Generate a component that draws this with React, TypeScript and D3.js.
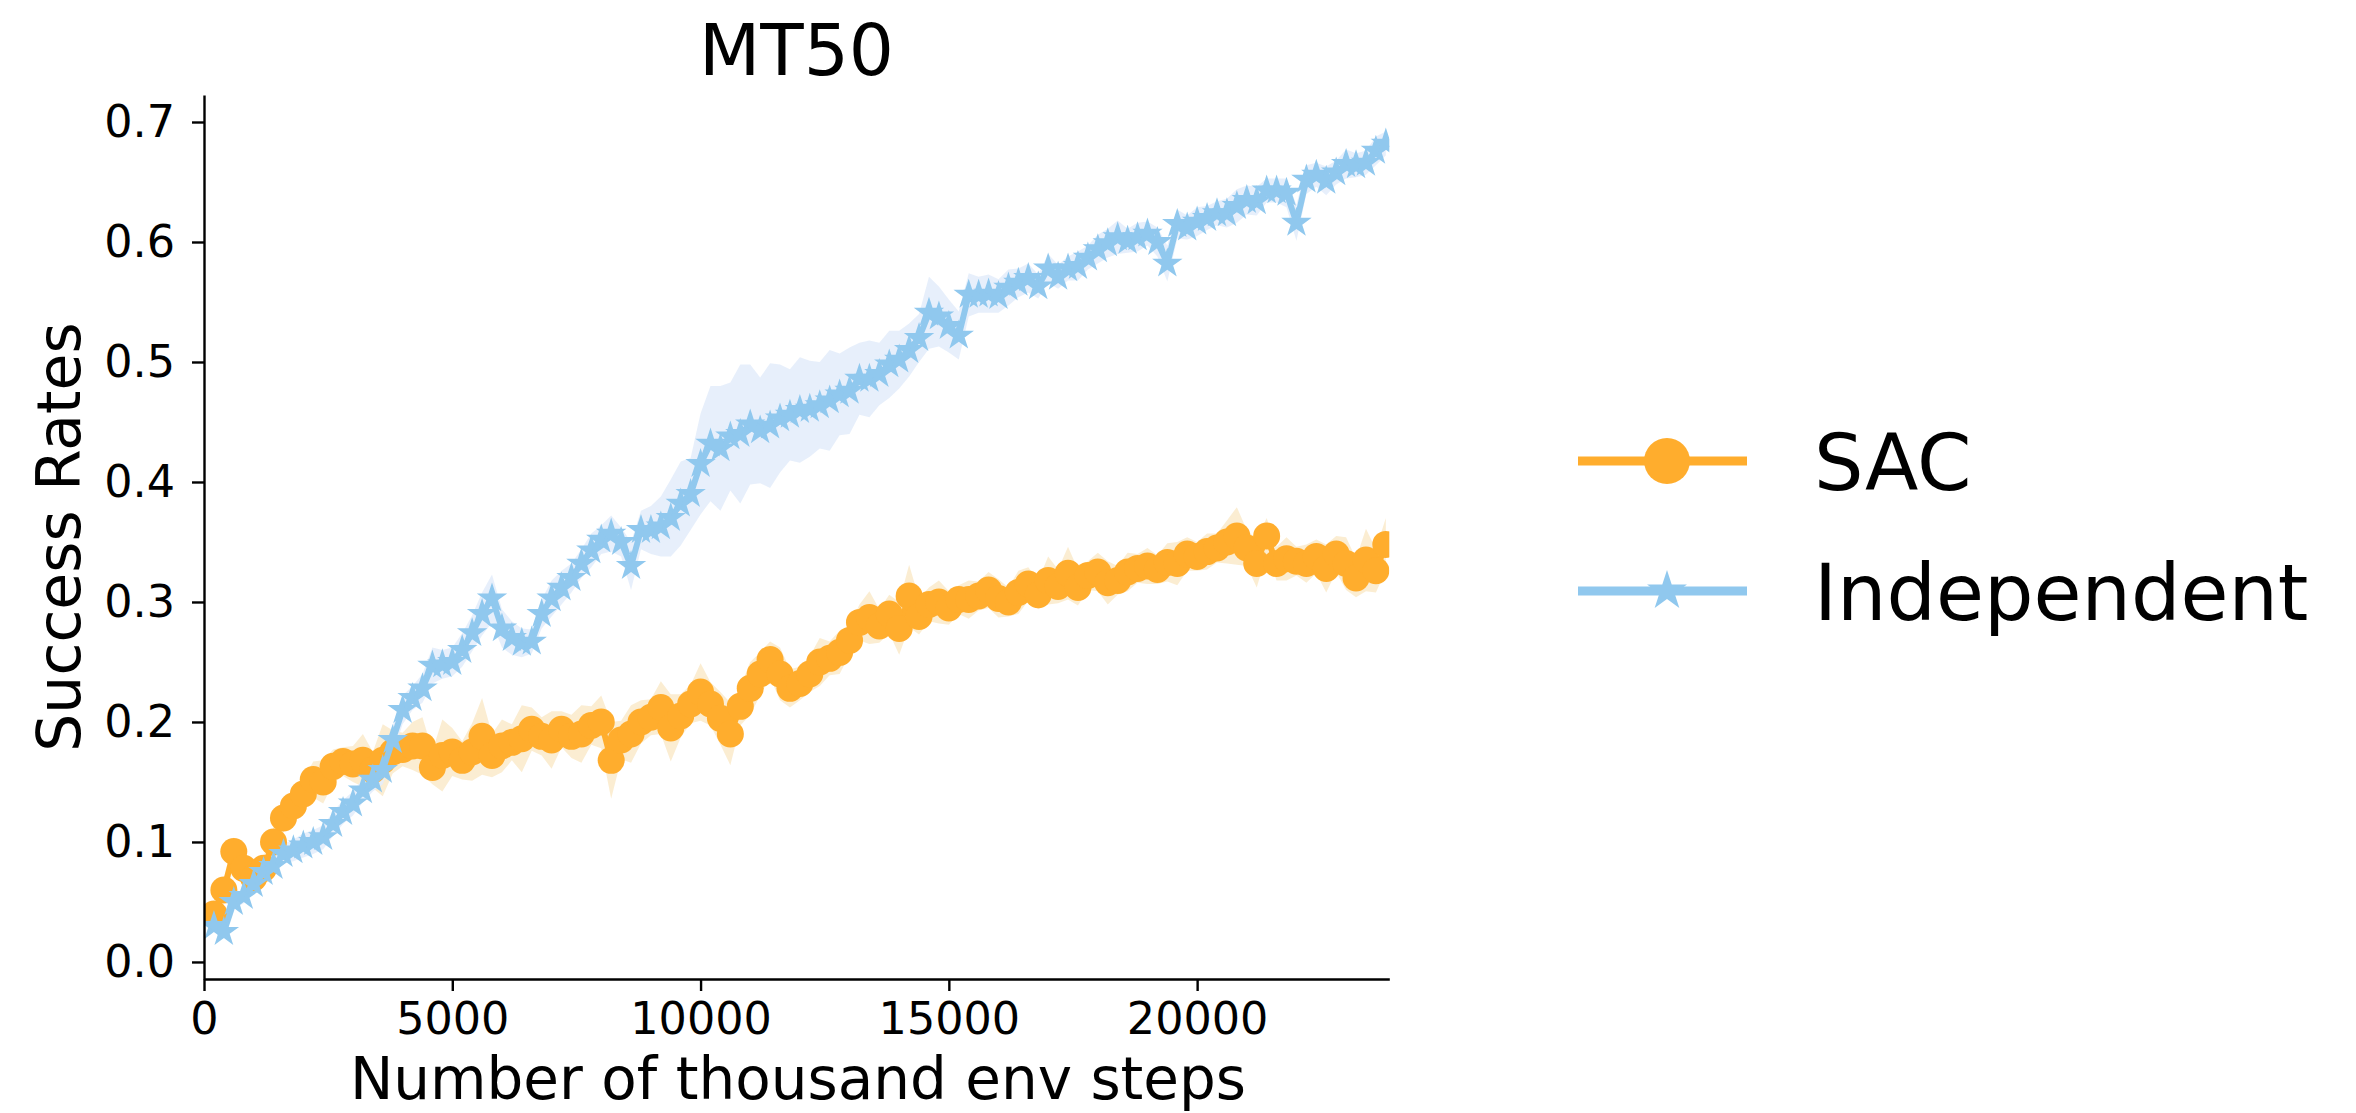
import { useEffect, useRef } from "react";
import * as d3 from "d3";

document.body.style.margin = "0";

// evaluation every 200 thousand env steps, first point at 200
const STEP = 200;

const sacMean = [
  0.04, 0.06, 0.092, 0.078, 0.07, 0.078, 0.1, 0.12, 0.13, 0.14,
  0.152, 0.15, 0.163, 0.167, 0.165, 0.168, 0.16, 0.168, 0.175, 0.177,
  0.18, 0.18, 0.162, 0.172, 0.175, 0.168, 0.175, 0.188, 0.172, 0.18,
  0.183, 0.186, 0.194, 0.188, 0.185, 0.194, 0.188, 0.19, 0.197, 0.2,
  0.168, 0.185, 0.19, 0.2, 0.204, 0.212, 0.195, 0.205, 0.215, 0.225,
  0.215, 0.203, 0.19, 0.213, 0.228, 0.24, 0.252, 0.24, 0.228, 0.232,
  0.24, 0.25, 0.253, 0.258, 0.268, 0.283, 0.287, 0.28, 0.29, 0.278,
  0.305, 0.288, 0.298, 0.3, 0.295, 0.302, 0.302, 0.305, 0.31, 0.303,
  0.3, 0.308, 0.315, 0.306, 0.318, 0.313, 0.324, 0.312, 0.322, 0.325,
  0.316, 0.318, 0.325, 0.328, 0.33, 0.327, 0.333, 0.332, 0.34, 0.338,
  0.342, 0.345, 0.35, 0.355, 0.345, 0.332, 0.355, 0.332, 0.336, 0.334,
  0.332, 0.338, 0.328, 0.34, 0.332, 0.32, 0.335, 0.326, 0.348,
];

const sacStd = [
  0.008, 0.01, 0.012, 0.012, 0.01, 0.01, 0.012, 0.012, 0.014, 0.012, 0.015, 0.018, 0.014, 0.012, 0.015,
  0.022, 0.015, 0.03, 0.018, 0.014, 0.02, 0.024, 0.014, 0.03, 0.02, 0.016, 0.024, 0.032, 0.018, 0.022,
  0.015, 0.028, 0.018, 0.016, 0.024, 0.015, 0.018, 0.024, 0.016, 0.022, 0.032, 0.016, 0.024, 0.018, 0.015,
  0.022, 0.028, 0.018, 0.016, 0.024, 0.018, 0.022, 0.026, 0.016, 0.022, 0.018, 0.015, 0.022, 0.016, 0.014,
  0.015, 0.02, 0.014, 0.018, 0.012, 0.015, 0.022, 0.014, 0.016, 0.022, 0.026, 0.015, 0.014, 0.018, 0.014,
  0.012, 0.016, 0.012, 0.015, 0.016, 0.012, 0.018, 0.014, 0.012, 0.02, 0.014, 0.022, 0.015, 0.012, 0.016,
  0.018, 0.012, 0.016, 0.012, 0.015, 0.012, 0.016, 0.018, 0.014, 0.012, 0.015, 0.012, 0.018, 0.024, 0.015,
  0.02, 0.015, 0.014, 0.018, 0.012, 0.016, 0.014, 0.02, 0.015, 0.022, 0.016, 0.026, 0.018, 0.022,
];

const indepMean = [
  0.03, 0.025, 0.05, 0.055, 0.065, 0.075, 0.08, 0.09, 0.093, 0.097,
  0.1, 0.104, 0.115, 0.125, 0.132, 0.143, 0.152, 0.16, 0.185, 0.21,
  0.22, 0.228, 0.247, 0.248, 0.25, 0.26, 0.274, 0.29, 0.303, 0.278,
  0.27, 0.266, 0.267, 0.29, 0.303, 0.312, 0.32, 0.332, 0.343, 0.352,
  0.357, 0.35, 0.33, 0.36, 0.36, 0.363, 0.37, 0.382, 0.39, 0.415,
  0.432, 0.428, 0.438, 0.44, 0.448, 0.443, 0.447, 0.453, 0.456, 0.46,
  0.461, 0.464, 0.468, 0.473, 0.476, 0.486, 0.486, 0.49, 0.498, 0.502,
  0.51, 0.52, 0.541, 0.538, 0.53, 0.522, 0.556, 0.556, 0.557, 0.555,
  0.562, 0.566, 0.57, 0.563, 0.578, 0.571, 0.578, 0.58, 0.587, 0.594,
  0.599, 0.604, 0.601, 0.604, 0.607, 0.6, 0.582, 0.615, 0.612, 0.617,
  0.62, 0.624, 0.624, 0.63, 0.635, 0.634, 0.643, 0.643, 0.641, 0.616,
  0.652, 0.656, 0.651, 0.658, 0.665, 0.664, 0.666, 0.676, 0.682,
];

const indepStd = [
  0.005, 0.005, 0.006, 0.006, 0.007, 0.008, 0.008, 0.008, 0.009, 0.01, 0.01, 0.01, 0.01, 0.01, 0.01,
  0.01, 0.01, 0.012, 0.012, 0.012, 0.01, 0.012, 0.015, 0.012, 0.012, 0.014, 0.015, 0.018, 0.02, 0.016,
  0.014, 0.012, 0.01, 0.012, 0.015, 0.014, 0.012, 0.012, 0.014, 0.012, 0.015, 0.012, 0.02, 0.016, 0.02,
  0.025, 0.032, 0.035, 0.03, 0.042, 0.048, 0.052, 0.045, 0.058, 0.05, 0.044, 0.052, 0.045, 0.038, 0.044,
  0.04, 0.036, 0.042, 0.034, 0.036, 0.03, 0.032, 0.026, 0.028, 0.024, 0.022, 0.02, 0.03, 0.025, 0.022,
  0.02, 0.018, 0.015, 0.016, 0.014, 0.015, 0.012, 0.012, 0.01, 0.012, 0.01, 0.01, 0.012, 0.01, 0.012,
  0.012, 0.014, 0.01, 0.012, 0.01, 0.012, 0.015, 0.012, 0.01, 0.012, 0.01, 0.01, 0.012, 0.014, 0.012,
  0.012, 0.01, 0.01, 0.012, 0.015, 0.012, 0.01, 0.012, 0.01, 0.012, 0.01, 0.01, 0.012, 0.01,
];

const xTicks = [0, 5000, 10000, 15000, 20000];
const yTicks = [0, 0.1, 0.2, 0.3, 0.4, 0.5, 0.6, 0.7];

const series = [
  { name: "SAC", mean: sacMean, std: sacStd, color: "#ffad2d", band: "#fbebcd", marker: "circle" },
  { name: "Independent", mean: indepMean, std: indepStd, color: "#90c8ee", band: "#e4edfb", marker: "star" },
];

export default function App() {
  const ref = useRef<SVGSVGElement>(null);

  useEffect(() => {
    if (!ref.current) return;
    const svg = d3.select(ref.current);
    svg.selectAll("*").remove();
    const font = "DejaVu Sans";

    const x = d3.scaleLinear().domain([0, 23870]).range([204, 1389.3]);
    const y = d3.scaleLinear().domain([-0.0142, 0.7225]).range([979, 95]);

    svg
      .append("defs")
      .append("clipPath")
      .attr("id", "plotClip")
      .append("rect")
      .attr("x", 204)
      .attr("y", 95)
      .attr("width", 1389.3 - 204)
      .attr("height", 979 - 95);

    const plot = svg.append("g").attr("clip-path", "url(#plotClip)");

    const circle = d3.symbol(d3.symbolCircle, Math.PI * 13.5 * 13.5);
    const star = d3.symbol(d3.symbolStar, (16 * 16) / 0.8908130915292852);

    // bands first
    series.forEach((s) => {
      const pts = s.mean.map((m, i) => ({ x: (i + 1) * STEP, lo: m - s.std[i], hi: m + s.std[i] }));
      const area = d3
        .area<any>()
        .x((d) => x(d.x))
        .y0((d) => y(d.lo))
        .y1((d) => y(d.hi));
      plot.append("path").attr("d", area(pts)).attr("fill", s.band).attr("opacity", 0.9);
    });

    series.forEach((s) => {
      const pts = s.mean.map((m, i) => ({ x: (i + 1) * STEP, v: m }));
      const line = d3
        .line<any>()
        .x((d) => x(d.x))
        .y((d) => y(d.v));
      plot
        .append("path")
        .attr("d", line(pts))
        .attr("fill", "none")
        .attr("stroke", s.color)
        .attr("stroke-width", 6)
        .attr("stroke-linejoin", "round");
      plot
        .selectAll(null)
        .data(pts)
        .enter()
        .append("path")
        .attr("transform", (d) => `translate(${x(d.x)},${y(d.v)})`)
        .attr("d", s.marker === "circle" ? circle() : star())
        .attr("fill", s.color);
    });

    // Axes
    const yAxis = svg
      .append("g")
      .attr("transform", "translate(204,0)")
      .call(d3.axisLeft(y).tickValues(yTicks).tickFormat(d3.format(".1f")).tickSize(12).tickSizeOuter(0).tickPadding(17));
    const xAxis = svg
      .append("g")
      .attr("transform", "translate(0,979)")
      .call(d3.axisBottom(x).tickValues(xTicks).tickFormat(d3.format("d")).tickSize(12).tickSizeOuter(0).tickPadding(11));

    [yAxis, xAxis].forEach((g) => {
      g.selectAll("path, line").attr("stroke", "#000").attr("stroke-width", 2.4);
      g.selectAll("text").style("font-family", font).style("font-size", "44.5px").attr("fill", "#000");
    });

    // Title & labels
    svg
      .append("text")
      .attr("x", 796.5)
      .attr("y", 75)
      .attr("text-anchor", "middle")
      .style("font-family", font)
      .style("font-size", "71px")
      .text("MT50");

    svg
      .append("text")
      .attr("x", 798)
      .attr("y", 1099)
      .attr("text-anchor", "middle")
      .style("font-family", font)
      .style("font-size", "58px")
      .text("Number of thousand env steps");

    svg
      .append("text")
      .attr("transform", "translate(80,537) rotate(-90)")
      .attr("text-anchor", "middle")
      .style("font-family", font)
      .style("font-size", "60px")
      .text("Success Rates");

    // Legend
    const legend = svg.append("g");
    const bigCircle = d3.symbol(d3.symbolCircle, Math.PI * 23 * 23);
    const bigStar = d3.symbol(d3.symbolStar, (21 * 21) / 0.8908130915292852);
    series.forEach((s, i) => {
      const ly = 461 + i * 130;
      legend
        .append("line")
        .attr("x1", 1578)
        .attr("x2", 1747)
        .attr("y1", ly)
        .attr("y2", ly)
        .attr("stroke", s.color)
        .attr("stroke-width", 9);
      legend
        .append("path")
        .attr("transform", `translate(1667,${ly})`)
        .attr("d", s.marker === "circle" ? bigCircle() : bigStar())
        .attr("fill", s.color);
      legend
        .append("text")
        .attr("x", 1814)
        .attr("y", ly + 29)
        .style("font-family", font)
        .style("font-size", "78px")
        .text(s.name);
    });
  }, []);

  return <svg ref={ref} width={2356} height={1113} style={{ display: "block", background: "#fff" }} />;
}
